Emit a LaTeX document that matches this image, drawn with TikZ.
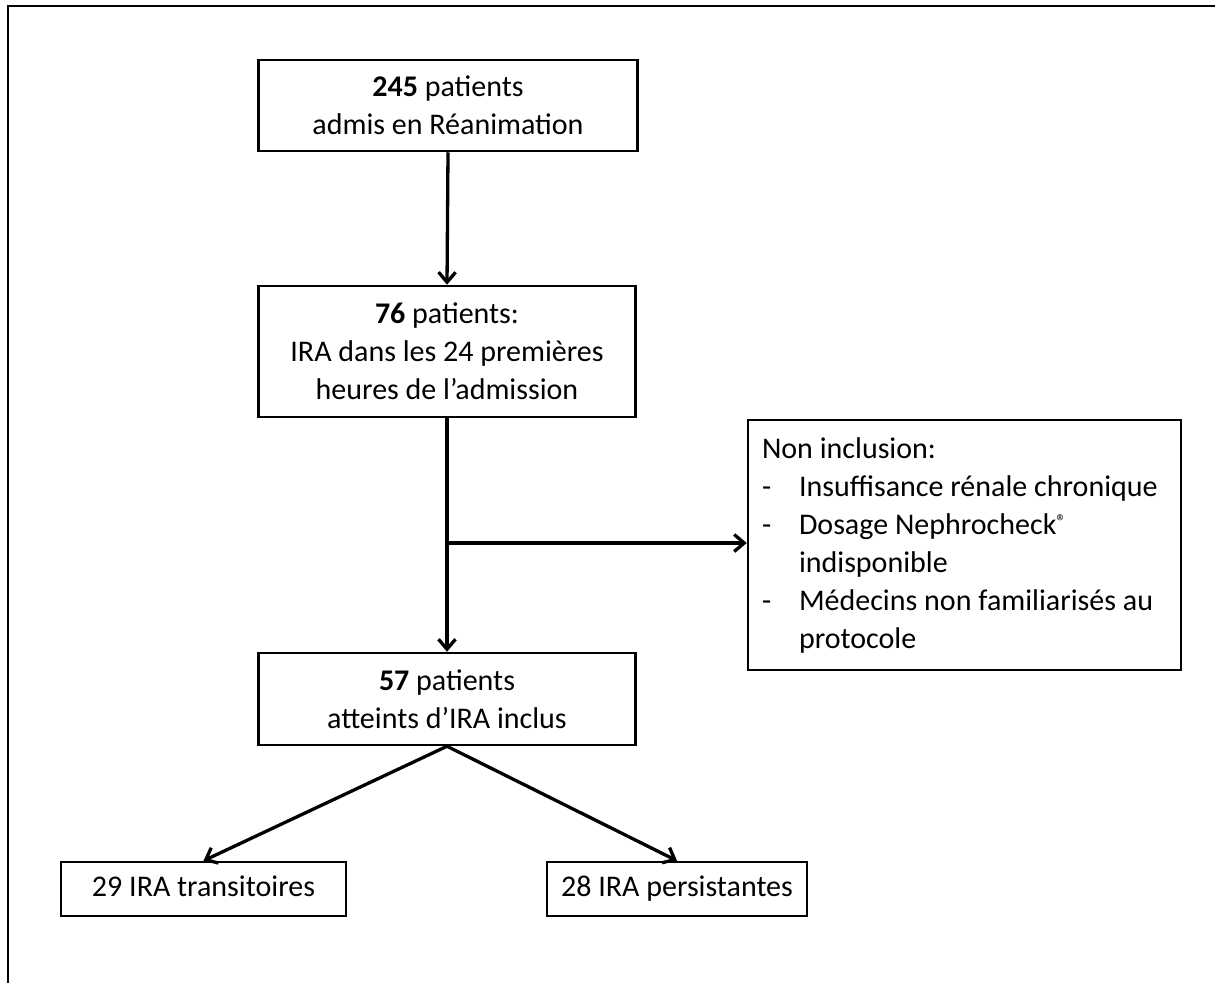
\documentclass[tikz,border=0pt]{standalone}
\usepackage{fontspec}
\setmainfont{Carlito}
\usetikzlibrary{arrows.meta,calc}
\begin{document}
\begin{tikzpicture}[x=1pt,y=-1pt,
  box/.style={draw, line width=2.5pt, inner sep=0pt, align=center,
    font=\fontsize{30}{38}\selectfont},
  smallbox/.style={box, text height=21pt, text depth=7pt, minimum height=54pt},
  conn/.style={line width=3.3pt},
  arr/.style={conn, -{Straight Barb[length=10pt,width=17pt,line width=3.3pt]}}]
\useasboundingbox (0,0) rectangle (1215,983);
\draw[line width=2.8pt] (8,983) -- (8,6) -- (1215,6);
\node[box, minimum width=379pt, minimum height=91pt] (b1) at (448,105.5)
  {\textbf{245} patients\\admis en Réanimation};
\node[box, minimum width=377pt, minimum height=131pt] (b2) at (447,351.5)
  {\textbf{76} patients:\\IRA dans les 24 premières\\heures de l’admission};
\node[box, minimum width=377pt, minimum height=92pt] (b3) at (447,699)
  {\textbf{57} patients\\atteints d’IRA inclus};
\node[box, minimum width=433pt, minimum height=250pt, align=left, text width=405pt] (ni) at (964.5,545)
  {\spaceskip=0.23em plus 0.05em\relax
   Non inclusion:\\
   \makebox[37pt][l]{-}Insuffisance rénale chronique\\
   \makebox[37pt][l]{-}Dosage Nephrocheck{\fontsize{20}{20}\selectfont\raisebox{0.6ex}{®}}\\
   \hspace*{37pt}indisponible\\
   \makebox[37pt][l]{-}Médecins non familiarisés au\\
   \hspace*{37pt}protocole};
\node[smallbox, minimum width=285pt] (b4) at (203.5,889) {29 IRA transitoires};
\node[smallbox, minimum width=260pt] (b5) at (677,889) {28 IRA persistantes};
\coordinate (br) at (b2.south |- 0,543);
\draw[arr] (b1.south) -- (b2.north);
\draw[arr] (b2.south) -- (b3.north);
\draw[arr] (br) -- (br -| ni.west);
\draw[arr] (b3.south) -- (b4.north);
\draw[arr] (b3.south) -- (b5.north);
\end{tikzpicture}
\end{document}
